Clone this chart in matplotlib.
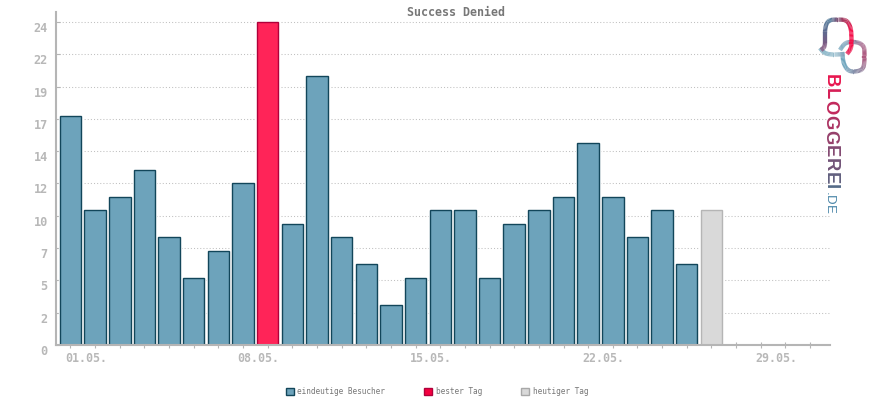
import matplotlib
matplotlib.use("Agg")
import matplotlib.pyplot as plt
from matplotlib.collections import LineCollection
from matplotlib.colors import LinearSegmentedColormap
from matplotlib.patches import Patch
import numpy as np

# Data
visitors = [17, 10, 11, 13, 8, 5, 7, 12, 24, 9, 20, 8, 6, 3, 5, 10, 10, 5, 9, 10, 11, 15, 11, 8, 10, 6, 10]
y_ticks = [0, 2.4, 4.8, 7.2, 9.6, 12, 14.4, 16.8, 19.2, 21.6, 24]
y_labels = ["0", "2", "5", "7", "10", "12", "14", "17", "19", "22", "24"]
date_labels = ["01.05.", "08.05.", "15.05.", "22.05.", "29.05."]
date_days = [0, 7, 14, 21, 28]
legend_names = ["eindeutige Besucher", "bester Tag", "heutiger Tag"]
title = "Success Denied"

W, H = 870, 400
GRAY = "#b5b5b5"
TXT = "#b8b8b8"
MONO = "DejaVu Sans Mono"

fig = plt.figure(figsize=(W / 100, H / 100), dpi=100)
ax = fig.add_axes([56 / W, (H - 345) / H, (830 - 56) / W, (345 - 12) / H])
ax.set_xlim(-0.588, 30.81)
ax.set_ylim(0, 24.74)

# Bars, best day red and current day gray
x = np.arange(len(visitors))
fills = ["#6da3bb"] * len(visitors)
edges = ["#12465a"] * len(visitors)
best = visitors.index(max(visitors))
fills[best] = "#ff2458"
edges[best] = "#b0003a"
fills[-1] = "#d9d9d9"
edges[-1] = "#b5b5b5"

ax.bar(x, visitors, width=0.87, color="white", edgecolor="white", linewidth=2.4, zorder=2)
ax.bar(x, visitors, width=0.87, color=fills, edgecolor=edges, linewidth=1.0, zorder=3)

# Axes
for side in ["top", "right"]:
    ax.spines[side].set_visible(False)
for side in ["left", "bottom"]:
    ax.spines[side].set_color(GRAY)
    ax.spines[side].set_linewidth(1.5)
    ax.spines[side].set_zorder(4)

ax.set_yticks(y_ticks)
ax.set_yticklabels(y_labels, family=MONO, fontsize=8.6, fontweight="bold", color=TXT, va="top")
ax.tick_params(axis="y", direction="in", length=3, width=0.8, color=GRAY, pad=6)
ax.set_xticks(np.arange(0, 31))
ax.set_xticklabels([])
ax.tick_params(axis="x", direction="inout", length=5, width=0.8, color=GRAY)
ax.grid(axis="y", color="#c0c0c0", linestyle=(0, (1, 2)), linewidth=0.75, zorder=1)
ax.set_axisbelow(True)

for day, label in zip(date_days, date_labels):
    ax.annotate(label, xy=(day, 0), xycoords="data", xytext=(15.5 * 0.72, -10), textcoords="offset points",
                family=MONO, fontsize=8.4, fontweight="bold", color=TXT, ha="center", va="center")

fig.text(456 / W, 1 - 12 / H, title, family=MONO, fontsize=8.4, fontweight="bold", color="#777777",
         ha="center", va="center")

# Legend
handles = [
    Patch(facecolor="#6da3bb", edgecolor="#12465a", linewidth=1, label=legend_names[0]),
    Patch(facecolor="#f5003f", edgecolor="#b0003a", linewidth=1, label=legend_names[1]),
    Patch(facecolor="#d9d9d9", edgecolor="#a8a8a8", linewidth=1, label=legend_names[2]),
]
leg = fig.legend(handles=handles, ncol=3, loc="center", bbox_to_anchor=(437 / W, 1 - 392 / H), frameon=False,
                 prop={"family": MONO, "size": 5.6}, handlelength=1, handleheight=1, handletextpad=0.5,
                 columnspacing=5, borderpad=0, borderaxespad=0)
for t in leg.get_texts():
    t.set_color("#777777")

# Logo, drawn in pixel coordinates
logo = fig.add_axes([0, 0, 1, 1], zorder=5)
logo.set_xlim(0, W)
logo.set_ylim(H, 0)
logo.axis("off")
logo.patch.set_alpha(0)


def stroke(points, colors, width=3.1):
    pts = np.array(points, dtype=float)
    # corner cutting to round the outline
    for _ in range(3):
        q = 0.75 * pts[:-1] + 0.25 * pts[1:]
        r = 0.25 * pts[:-1] + 0.75 * pts[1:]
        pts = np.vstack([pts[0], np.column_stack([q, r]).reshape(-1, 2), pts[-1]])
    cmap = LinearSegmentedColormap.from_list("logo", colors)
    segs = [pts[i:i + 2] for i in range(len(pts) - 1)]
    cols = [cmap(i / max(len(segs) - 1, 1)) for i in range(len(segs))]
    logo.add_collection(LineCollection(segs, colors=cols, linewidths=width, capstyle="butt"))


stroke([(840, 50), (844, 44), (848, 42), (858, 42), (864, 46), (864.5, 52), (864.5, 62), (863, 70), (853, 72),
        (847, 70), (843, 62), (842.5, 52)],
       ["#6ea5bd", "#7a9fb8", "#a86f92", "#b05a80", "#8f8aa5", "#6ea5bd", "#6ea5bd"])
stroke([(820, 48), (824, 53), (830, 54.5), (838, 54.5), (844, 54)],
       ["#6ea5bd", "#7fb0c4", "#9cc0cf", "#7f98b2"])
stroke([(821, 50), (825, 47), (825, 38), (825, 28), (828, 20), (838, 19.5), (847, 20), (851, 28), (851.5, 38),
        (851.5, 48), (847, 54)],
       ["#8f4f78", "#7d5680", "#5c6b90", "#4f7a9a", "#b03058", "#f5104a", "#f5104a", "#e01048"])

letters = "BLOGGEREI"
letter_cols = ["#e8174f", "#d61f56", "#c2295c", "#ac3463", "#96406b", "#844a72", "#725478", "#62607f", "#556b88"]
renderer = fig.canvas.get_renderer()
pos = 74.5
for ch, col in zip(letters, letter_cols):
    t = logo.text(838.5, pos, ch, rotation=-90, family="Liberation Sans", fontsize=13.2, fontweight="bold",
                  color=col, ha="right", va="top")
    pos += t.get_window_extent(renderer).height + 0.6

pos += 1.5
for ch in ".DE":
    t = logo.text(834.5, pos, ch, rotation=-90, family="Liberation Sans", fontsize=9.5, color="#4a86a8",
                  ha="right", va="top")
    pos += t.get_window_extent(renderer).height

fig.savefig("out.png", dpi=100)
